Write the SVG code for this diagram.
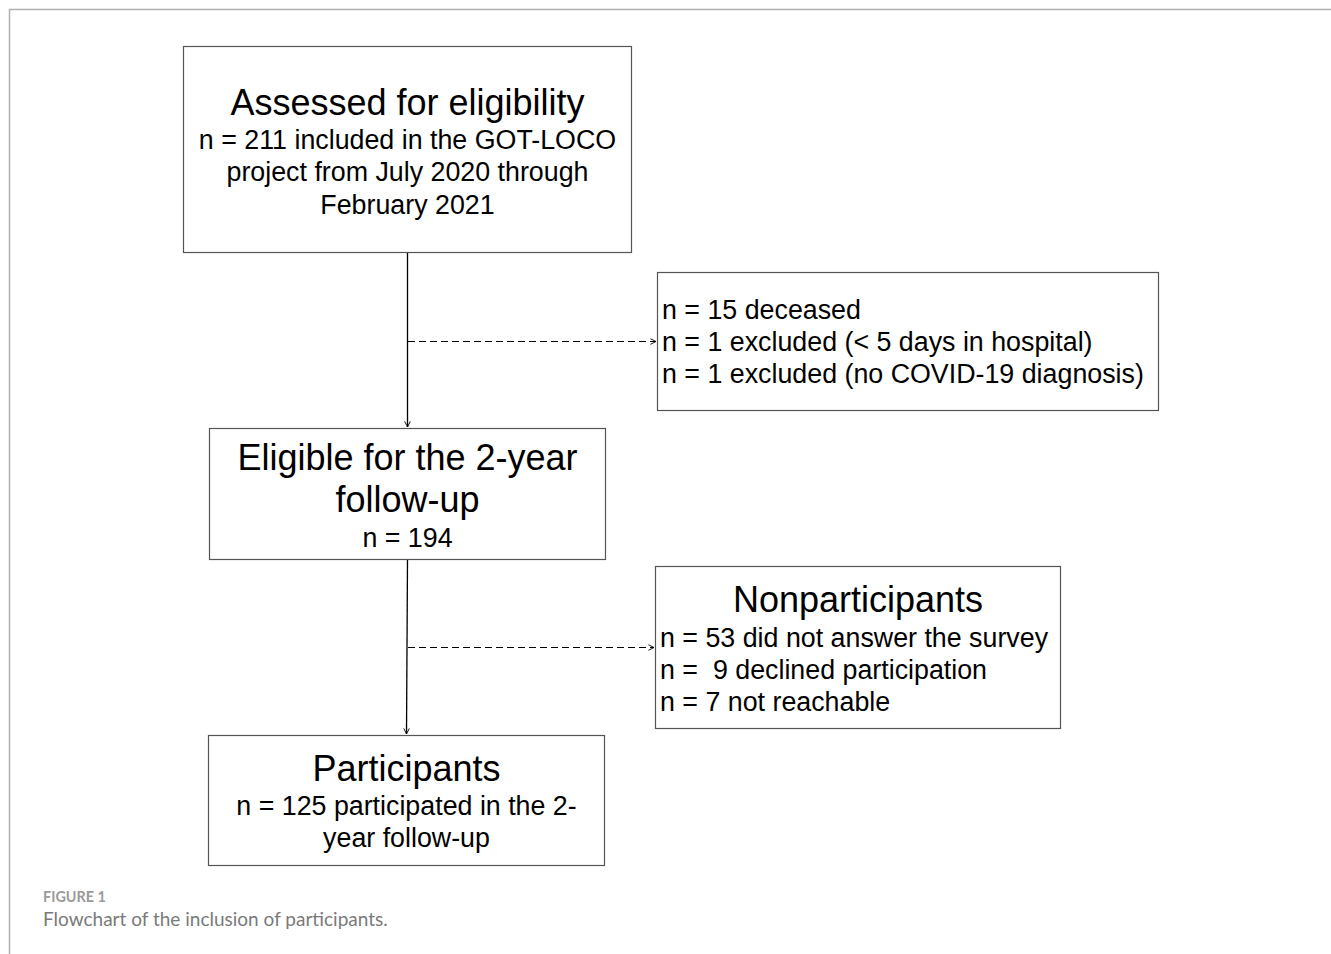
<svg xmlns="http://www.w3.org/2000/svg" width="1331" height="954" viewBox="0 0 1331 954">
<defs>
<style>
.box{fill:#fff;stroke:#555;stroke-width:1.2}
.t{font-family:"Liberation Sans",Arial,sans-serif;fill:#000}
.h{font-size:36px;text-anchor:middle}
.m{font-size:26.8px;text-anchor:middle}
.l{font-size:26.8px}
.ln{stroke:#000;stroke-width:1.3;fill:none}
.d{stroke:#000;stroke-width:1.2;fill:none;stroke-dasharray:7,4}
</style>
<marker id="ah" viewBox="0 0 10 10" refX="9" refY="5" markerWidth="7" markerHeight="7" markerUnits="userSpaceOnUse" orient="auto">
<path d="M1,1 L9,5 L1,9" fill="none" stroke="#000" stroke-width="1.3"/>
</marker>
</defs>
<rect width="1331" height="954" fill="#fff"/>
<path d="M9.5,954 V9.5 H1331" fill="none" stroke="#b0b0b0" stroke-width="1.5"/>
<g id="connectors">
<line class="ln" x1="407.5" y1="252" x2="407.5" y2="427" marker-end="url(#ah)"/>
<line class="d" x1="408" y1="341.5" x2="656" y2="341.5" marker-end="url(#ah)"/>
<line class="ln" x1="407.5" y1="559" x2="406.5" y2="734" marker-end="url(#ah)"/>
<line class="d" x1="408" y1="647.5" x2="654" y2="647.5" marker-end="url(#ah)"/>
</g>
<g id="assessed">
<rect class="box" x="183.5" y="46.5" width="448" height="206"/>
<text class="t h" x="407.5" y="115">Assessed for eligibility</text>
<text class="t m" x="407.5" y="149">n = 211 included in the GOT-LOCO</text>
<text class="t m" x="407.5" y="181">project from July 2020 through</text>
<text class="t m" x="407.5" y="214">February 2021</text>
</g>
<g id="excluded">
<rect class="box" x="657.5" y="272.5" width="501" height="138"/>
<text class="t l" x="662" y="319">n = 15 deceased</text>
<text class="t l" x="662" y="351">n = 1 excluded (&lt; 5 days in hospital)</text>
<text class="t l" x="662" y="383">n = 1 excluded (no COVID-19 diagnosis)</text>
</g>
<g id="eligible">
<rect class="box" x="209.5" y="428.5" width="396" height="131"/>
<text class="t h" x="407.5" y="470">Eligible for the 2-year</text>
<text class="t h" x="407.5" y="512">follow-up</text>
<text class="t m" x="407.5" y="547">n = 194</text>
</g>
<g id="nonparticipants">
<rect class="box" x="655.5" y="566.5" width="405" height="162"/>
<text class="t h" x="858" y="612">Nonparticipants</text>
<text class="t l" x="660" y="647">n = 53 did not answer the survey</text>
<text class="t l" x="660" y="679" xml:space="preserve">n =  9 declined participation</text>
<text class="t l" x="660" y="711">n = 7 not reachable</text>
</g>
<g id="participants">
<rect class="box" x="208.5" y="735.5" width="396" height="130"/>
<text class="t h" x="406.5" y="781">Participants</text>
<text class="t m" x="406.5" y="815">n = 125 participated in the 2-</text>
<text class="t m" x="406.5" y="847">year follow-up</text>
</g>
<g id="caption">
<text x="43" y="902" font-family="Lato,'Open Sans',sans-serif" font-size="14.4" font-weight="bold" fill="#9a9a9a">FIGURE 1</text>
<text x="43" y="926" font-family="Lato,'Open Sans',sans-serif" font-size="19" fill="#7a7a7a">Flowchart of the inclusion of participants.</text>
</g>
</svg>
